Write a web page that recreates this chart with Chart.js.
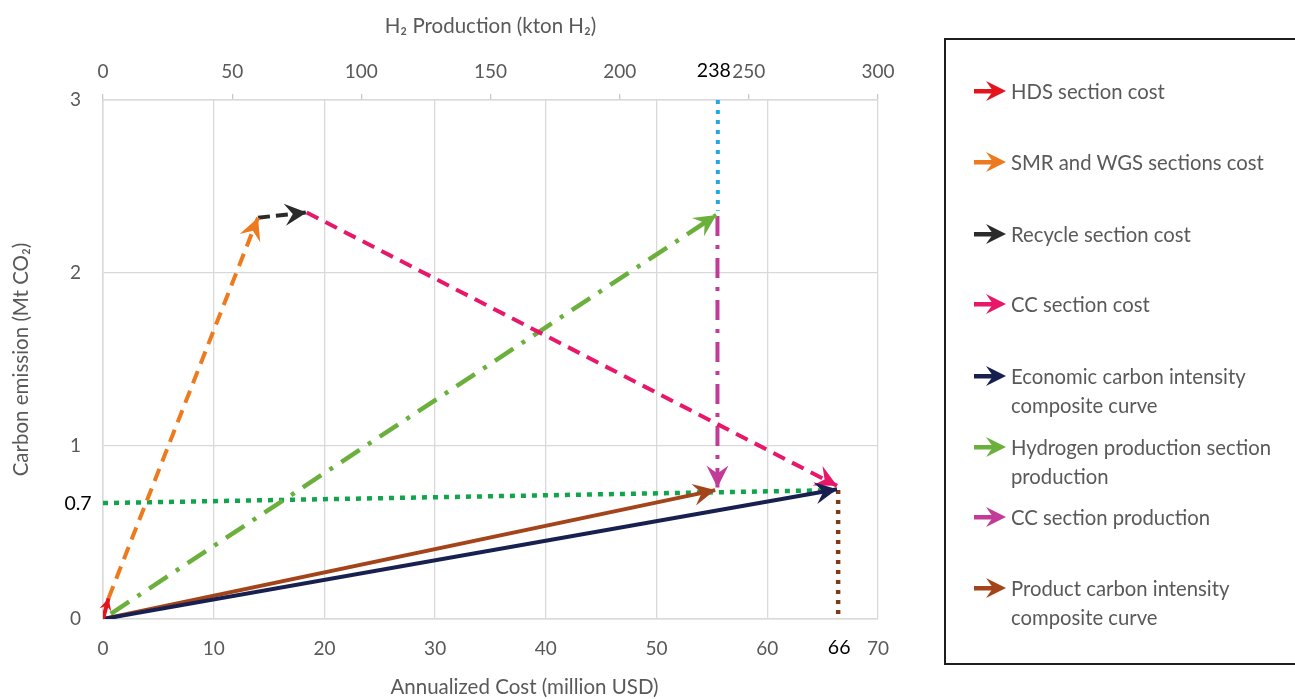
<!DOCTYPE html>
<html>
<head>
<meta charset="utf-8">
<script src="https://cdn.jsdelivr.net/npm/chart.js@4.4.1/dist/chart.umd.min.js"></script>
<style>
html,body{margin:0;padding:0;background:#fff;}
#wrap{position:relative;width:1295px;height:699px;overflow:hidden;background:#fff;}
#c{position:absolute;left:0;top:0;}
#legend{position:absolute;left:944px;top:38px;width:400px;height:627px;border:2px solid #1e1e1e;box-sizing:border-box;font-family:Lato,"Open Sans",sans-serif;font-size:20.3px;color:#595959;}
.ln{position:absolute;left:65px;height:24px;line-height:24px;white-space:nowrap;}
.ic{position:absolute;left:27px;width:34px;height:22px;}
</style>
</head>
<body>
<div id="wrap">
<canvas id="c" width="1295" height="699"></canvas>
<div id="legend"></div>
</div>
<script>
// ---- tick labels ----
const costTicks = [0, 10, 20, 30, 40, 50, 60, 70];
const productionTicks = [0, 50, 100, 150, 200, 250, 300];
const emissionTicks = [0, 1, 2, 3];

// ---- highlighted marker values ----
const totalCostMark = 66.4, totalCostLabel = "66";
const h2ProductionMark = 238, h2ProductionLabel = "238";
const intensityMark = 0.67, intensityLabel = "0.7";

// ---- series (annualized cost, carbon emission) ----
const hdsCost = [0, 0.5],         hdsEmission = [0, 0.12];
const smrCost = [0.5, 14.0],      smrEmission = [0.12, 2.32];
const recycleCost = [14.0, 18.4], recycleEmission = [2.32, 2.35];
const ccCost = [18.4, 66.3],      ccEmission = [2.35, 0.77];
const economicCost = [0, 66.3],   economicEmission = [0, 0.75];
const h2SecCost = [0.7, 55.4],    h2SecEmission = [0.03, 2.335];
const ccProdCost = [55.5, 55.5],  ccProdEmission = [2.33, 0.76];
const productCost = [0, 55.3],    productEmission = [0, 0.745];
// guide lines
const h2GuideProd = [238, 238],   h2GuideEmission = [3, 2.36];      // top axis (kton H2)
const costGuide = [66.4, 66.4],   costGuideEmission = [0.745, 0];
const intensityGuideCost = [0, 66.4], intensityGuideEmission = [0.67, 0.745];

const legendLabels = [
  ["HDS section cost"],
  ["SMR and WGS sections cost"],
  ["Recycle section cost"],
  ["CC section cost"],
  ["Economic carbon intensity", "composite curve"],
  ["Hydrogen production section", "production"],
  ["CC section production"],
  ["Product carbon intensity", "composite curve"]
];

const pts = (xs, ys) => xs.map((x, i) => ({x: x, y: ys[i]}));

const C = {
  hds: '#e3141c', smr: '#ee7a1e', rec: '#2b2b2b', cc: '#e8176a',
  eco: '#17204f', h2: '#6bb03c', ccp: '#c23b98', prod: '#a4441a',
  blue: '#22a6e6', gdot: '#10a54a', bdot: '#7a3b16'
};

function ds(label, xs, ys, color, width, dash, arrow, xAxisID) {
  return {
    label: label, data: pts(xs, ys), borderColor: color, backgroundColor: color,
    borderWidth: width, borderDash: dash, borderCapStyle: 'butt',
    showLine: true, pointRadius: 0, pointHoverRadius: 0, fill: false, tension: 0,
    xAxisID: xAxisID || 'x', yAxisID: 'y', arrow: arrow
  };
}

const datasets = [
  ds(legendLabels[0].join(' '), hdsCost, hdsEmission, C.hds, 4, [], 0.55),
  ds(legendLabels[1].join(' '), smrCost, smrEmission, C.smr, 4, [13, 8], 1),
  ds(legendLabels[2].join(' '), recycleCost, recycleEmission, C.rec, 4, [12, 6], 1),
  ds(legendLabels[3].join(' '), ccCost, ccEmission, C.cc, 4, [13, 8], 1),
  ds(legendLabels[4].join(' '), economicCost, economicEmission, C.eco, 4, [], 1),
  ds(legendLabels[7].join(' '), productCost, productEmission, C.prod, 4, [], 1),
  ds(legendLabels[5].join(' '), h2SecCost, h2SecEmission, C.h2, 4.5, [22, 10, 4, 10], 1),
  ds(legendLabels[6].join(' '), ccProdCost, ccProdEmission, C.ccp, 4, [20, 9, 4, 9], 1),
  ds('H2 production guide', h2GuideProd, h2GuideEmission, C.blue, 4, [4, 6], 0, 'x2'),
  ds('Total cost guide', costGuide, costGuideEmission, C.bdot, 4.5, [4, 6], 0),
  ds('Intensity guide', intensityGuideCost, intensityGuideEmission, C.gdot, 4.5, [5, 6], 0)
];

const FONT = 'Lato, "Open Sans", sans-serif';
const GRID = '#d9d9d9';
const TXT = '#595959';
const costTitle = 'Annualized Cost (million USD)';

const arrowPlugin = {
  id: 'arrows',
  afterDatasetsDraw(chart) {
    const ctx = chart.ctx;
    chart.data.datasets.forEach((d, i) => {
      if (!d.arrow) return;
      const meta = chart.getDatasetMeta(i);
      const n = meta.data.length;
      const a = meta.data[n - 2], b = meta.data[n - 1];
      const ang = Math.atan2(b.y - a.y, b.x - a.x);
      const k = d.arrow;
      const L = 22 * k, hw = 11 * k, notch = 8 * k;
      ctx.save();
      ctx.translate(b.x, b.y);
      ctx.rotate(ang);
      ctx.fillStyle = d.borderColor;
      ctx.beginPath();
      ctx.moveTo(0, 0);
      ctx.lineTo(-L, -hw);
      ctx.lineTo(-L + notch, 0);
      ctx.lineTo(-L, hw);
      ctx.closePath();
      ctx.fill();
      ctx.restore();
    });
  },
  afterDraw(chart) {
    const ctx = chart.ctx;
    const sx = chart.scales.x, sx2 = chart.scales.x2, sy = chart.scales.y;
    ctx.save();
    ctx.textAlign = 'center';
    ctx.textBaseline = 'middle';
    ctx.fillStyle = '#000';
    ctx.font = '19.5px ' + FONT;
    ctx.fillText(h2ProductionLabel, sx2.getPixelForValue(h2ProductionMark) - 4, sx2.bottom - 29);
    ctx.fillText(totalCostLabel, sx.getPixelForValue(totalCostMark) + 1, sx.top + 29);
    ctx.fillText(intensityLabel, sy.right - 25, sy.getPixelForValue(intensityMark) + 1);
    // bottom axis title (offset to the right as in the source figure)
    ctx.fillStyle = TXT;
    ctx.font = '20.5px ' + FONT;
    ctx.fillText(costTitle, (sx.left + sx.right) / 2 + 34, sx.bottom - 12);
    ctx.restore();
  }
};

new Chart(document.getElementById('c'), {
  type: 'scatter',
  data: { datasets: datasets },
  plugins: [arrowPlugin],
  options: {
    responsive: false,
    animation: false,
    devicePixelRatio: 1,
    layout: { padding: { left: 0, right: 417, top: 0, bottom: 0 } },
    plugins: { legend: { display: false }, tooltip: { enabled: false } },
    scales: {
      x: {
        type: 'linear', position: 'bottom', min: 0, max: 70,
        afterBuildTicks: s => { s.ticks = costTicks.map(v => ({value: v})); },
        afterFit: s => { s.height = 80; },
        ticks: { color: TXT, font: { family: FONT, size: 19 }, padding: 18 },
        grid: { color: GRID, lineWidth: 1.3, drawTicks: false },
        border: { color: GRID, width: 1.5 },
        title: { display: false }
      },
      x2: {
        type: 'linear', position: 'top', min: 0, max: 300,
        afterBuildTicks: s => { s.ticks = productionTicks.map(v => ({value: v})); },
        afterFit: s => { s.height = 100; },
        ticks: { color: TXT, font: { family: FONT, size: 19 }, padding: 11 },
        grid: { drawOnChartArea: false, drawTicks: true, tickLength: 6, color: '#c8c8c8', lineWidth: 1.3 },
        border: { color: GRID, width: 1.5 },
        title: { display: true, text: 'H\u2082 Production (kton H\u2082)', color: TXT,
                 font: { family: FONT, size: 20.5 }, padding: { top: 14.5, bottom: 0 } }
      },
      y: {
        type: 'linear', position: 'left', min: 0, max: 3,
        afterBuildTicks: s => { s.ticks = emissionTicks.map(v => ({value: v})); },
        afterFit: s => { s.width = 103; },
        ticks: { color: TXT, font: { family: FONT, size: 19 }, padding: 22 },
        grid: { color: GRID, lineWidth: 1.3, drawTicks: false },
        border: { color: GRID, width: 1.5 },
        title: { display: true, text: 'Carbon emission (Mt CO\u2082)', color: TXT,
                 font: { family: FONT, size: 20.5 }, padding: { top: 9.5, bottom: 0 } }
      }
    }
  }
});

// ---- legend (HTML) ----
const legendColors = [C.hds, C.smr, C.rec, C.cc, C.eco, C.h2, C.ccp, C.prod];
const legendRowY = [91, 162, 234, 304, 376, 447, 517, 588];
const lg = document.getElementById('legend');
legendLabels.forEach((lines, i) => {
  const y0 = legendRowY[i] - 38 - 2;
  const ic = document.createElementNS('http://www.w3.org/2000/svg', 'svg');
  ic.setAttribute('class', 'ic');
  ic.setAttribute('viewBox', '0 0 34 22');
  ic.style.top = (y0 - 11) + 'px';
  ic.innerHTML = '<rect x="1" y="9" width="20" height="4.5" fill="' + legendColors[i] + '"/>' +
    '<path d="M33 11 L13 1 L20 11 L13 21 Z" fill="' + legendColors[i] + '"/>';
  lg.appendChild(ic);
  lines.forEach((t, k) => {
    const d = document.createElement('div');
    d.className = 'ln';
    d.textContent = t;
    d.style.top = (y0 - 12 + k * 28.5) + 'px';
    lg.appendChild(d);
  });
});
</script>
</body>
</html>
